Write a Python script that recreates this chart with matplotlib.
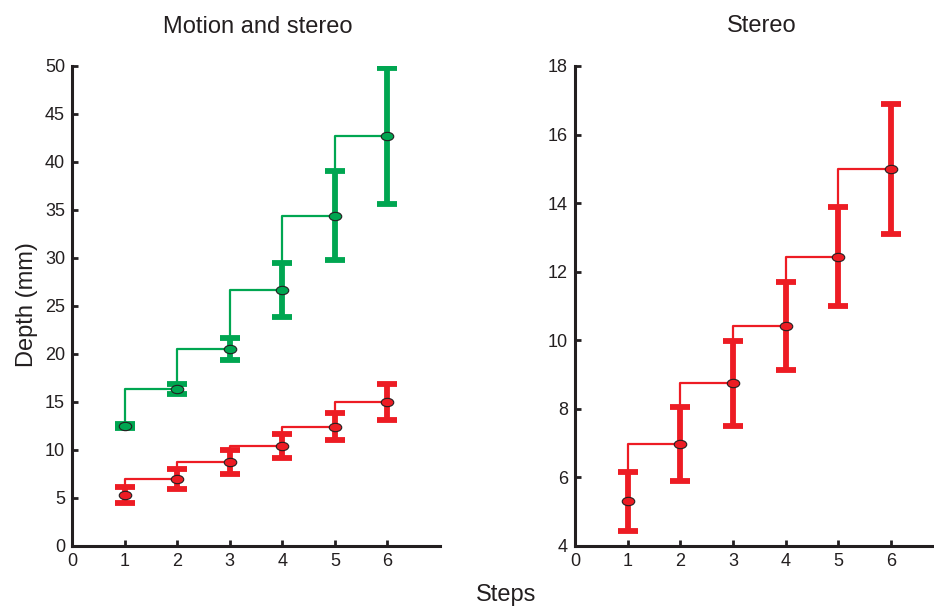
import numpy as np
import matplotlib
matplotlib.use("Agg")
import matplotlib.pyplot as plt
from matplotlib.path import Path
from matplotlib.transforms import Affine2D

plt.rcParams['font.family'] = ['Liberation Sans', 'DejaVu Sans']

steps = [1, 2, 3, 4, 5, 6]

# motion and stereo (green)
motion_mean = [12.5, 16.35, 20.5, 26.7, 34.4, 42.7]
motion_err = [0.2, 0.55, 1.15, 2.8, 4.65, 7.1]

# stereo only (red), same numbers in both panels
stereo_mean = [5.30, 6.97, 8.74, 10.42, 12.44, 15.0]
stereo_err = [0.87, 1.07, 1.25, 1.29, 1.44, 1.9]

green = '#00a651'
red = '#ed1c24'
ink = '#231f20'

# flat ellipse marker
ellipse = Path.unit_circle().transformed(Affine2D().scale(1.5, 1.0))


def draw_series(ax, x, y, err, color):
    ax.errorbar(x, y, yerr=err, fmt='none', ecolor=color, elinewidth=4.2,
                capsize=7.5, capthick=4.2, zorder=2)
    ax.plot(x, y, drawstyle='steps-pre', color=color, lw=1.6, zorder=3)
    ax.plot(x, y, ls='none', marker=ellipse, ms=9, mfc=color, mec=ink,
            mew=0.8, zorder=4)


def style_axes(ax):
    for s in ['top', 'right']:
        ax.spines[s].set_visible(False)
    for s in ['left', 'bottom']:
        ax.spines[s].set_linewidth(2.2)
        ax.spines[s].set_color(ink)
    ax.tick_params(direction='in', length=4, width=2, labelsize=13,
                   colors=ink, pad=5)


fig = plt.figure(figsize=(9.34, 6.08), dpi=100)

ax1 = fig.add_axes([72 / 934, 62 / 608, 368 / 934, 480 / 608])
draw_series(ax1, steps, motion_mean, motion_err, green)
draw_series(ax1, steps, stereo_mean, stereo_err, red)
ax1.set_xlim(0, 7)
ax1.set_ylim(0, 50)
ax1.set_xticks(range(0, 7))
ax1.set_yticks(range(0, 51, 5))
style_axes(ax1)

ax2 = fig.add_axes([575 / 934, 62 / 608, 359 / 934, 480 / 608])
draw_series(ax2, steps, stereo_mean, stereo_err, red)
ax2.set_xlim(0, 6.82)
ax2.set_ylim(4, 18)
ax2.set_xticks(range(0, 7))
ax2.set_yticks(range(4, 19, 2))
style_axes(ax2)

fig.text(258 / 934, 1 - 33 / 608, 'Motion and stereo', ha='center', va='baseline',
         fontsize=17, color=ink)
fig.text(762 / 934, 1 - 32 / 608, 'Stereo', ha='center', va='baseline',
         fontsize=17, color=ink)
fig.text(506 / 934, 1 - 601 / 608, 'Steps', ha='center', va='baseline',
         fontsize=17, color=ink)
fig.text(27 / 934, 1 - 305 / 608, 'Depth (mm)', ha='center', va='center',
         rotation=90, fontsize=17, color=ink)

fig.savefig('out.png', dpi=100)
